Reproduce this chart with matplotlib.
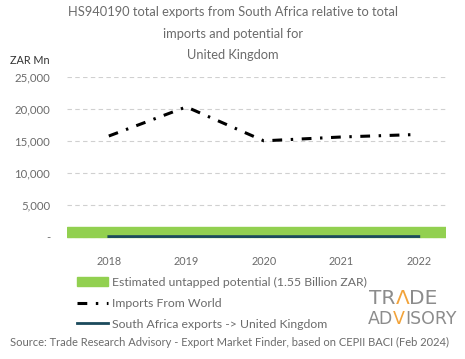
import matplotlib
matplotlib.use("Agg")
import matplotlib.pyplot as plt
import matplotlib.patches as mpatches
from matplotlib.lines import Line2D

years = [2018, 2019, 2020, 2021, 2022]
imports_world = [15750, 20300, 15000, 15600, 16000]
sa_exports = [40, 45, 35, 40, 45]
potential = 1550  # ZAR Mn
yticks = [0, 5000, 10000, 15000, 20000, 25000]
ytick_labels = ["-", "5,000", "10,000", "15,000", "20,000", "25,000"]

plt.rcParams['font.family'] = ['Lato', 'DejaVu Sans']
grey = "#6b6b6b"

fig = plt.figure(figsize=(4.65, 3.59), dpi=100)
ax = fig.add_axes([0.144, 0.318, 0.815, 0.468])

ax.axhspan(0, potential, color="#92d050", zorder=1)
ax.plot(years, imports_world, color="black", lw=2.2, dashes=[3.2, 2.8, 0.8, 2.8], zorder=3)
ax.plot(years, sa_exports, color="#1b4a5c", lw=2, zorder=2)

ax.set_xlim(2017.46, 2022.35)
ax.set_ylim(-1250, 25000)
ax.set_yticks(yticks)
ax.set_yticklabels(ytick_labels)
ax.set_xticks(years)
ax.grid(axis="y", color="#d0d0d0", ls=(0, (4, 3)), lw=0.8)
ax.set_axisbelow(True)
for s in ax.spines.values():
    s.set_visible(False)
ax.tick_params(length=0, colors=grey, labelsize=7.8)
ax.tick_params(axis="y", labelsize=8.2, pad=12)
ax.tick_params(axis="x", pad=8)

# title
title_lines = ["HS940190 total exports from South Africa relative to total",
               "imports and potential for", "United Kingdom"]
for i, t in enumerate(title_lines):
    fig.text(0.5, 1 - (12 + 21.5 * i) / 359, t, ha="center", va="center",
             fontsize=9.3, color=grey)
fig.text(10 / 465, 1 - 60 / 359, "ZAR Mn", ha="left", va="center",
         fontsize=7.8, color="#333333")

# legend
handles = [mpatches.Patch(color="#92d050"),
           Line2D([0], [0], color="black", lw=2.2, dashes=[3.2, 2.8, 0.8, 2.8]),
           Line2D([0], [0], color="#1b4a5c", lw=2)]
labels = ["Estimated untapped potential (1.55 Billion ZAR)",
          "Imports From World",
          "South Africa exports -> United Kingdom"]
fig.legend(handles, labels, loc="upper left", bbox_to_anchor=(66 / 465, 1 - 266 / 359),
           frameon=False, fontsize=8.8, labelcolor=grey, handlelength=2.5,
           handletextpad=0.4, labelspacing=0.8)

# logo, letters chained one after another
orange = "#f2a33a"
lg = "#8c8c8c"
logo_font = ["Liberation Sans Narrow", "DejaVu Sans"]

def chain(x, y, parts, size):
    t = fig.text(x, y, parts[0][0], color=parts[0][1], fontsize=size,
                 family=logo_font, ha="left", va="baseline")
    for txt, col in parts[1:]:
        t = ax.annotate(txt, xy=(1, 0), xycoords=t, xytext=(0, 0),
                        textcoords="offset points", color=col, fontsize=size,
                        family=logo_font, ha="left", va="bottom",
                        annotation_clip=False)

chain(369 / 465, 1 - 304 / 359, [("TR", lg), ("Λ", orange), ("DE", lg)], 14.5)
chain(368 / 465, 1 - 324 / 359, [("AD", lg), ("V", orange), ("ISORY", lg)], 12.5)

fig.text(10 / 465, 1 - 342 / 359,
         "Source: Trade Research Advisory - Export Market Finder, based on CEPII BACI (Feb 2024)",
         ha="left", va="center", fontsize=8.0, color=grey)

fig.savefig("out.png", dpi=100)
